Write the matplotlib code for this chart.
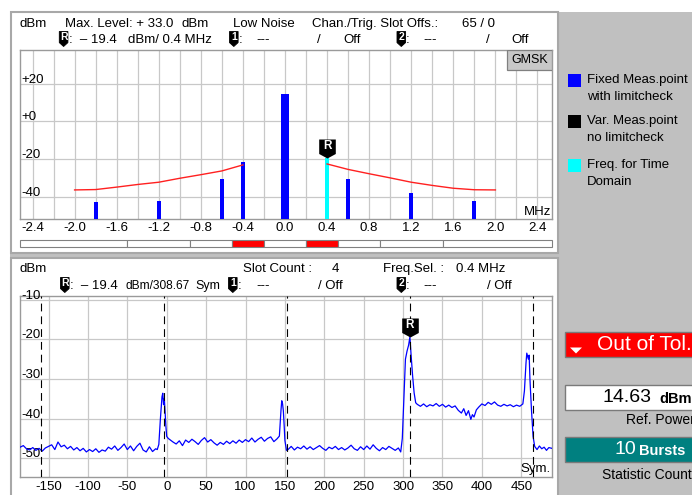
import matplotlib
matplotlib.use("Agg")
import matplotlib.pyplot as plt
import matplotlib.transforms as mtransforms
from matplotlib.patches import Rectangle, Polygon
from matplotlib.path import Path
import numpy as np

plt.rcParams['font.family'] = ['Liberation Sans', 'DejaVu Sans']

W, H = 692, 495

# ---------------- spectrum due to modulation (upper display) ----------------
meas_freq = [-1.8, -1.2, -0.6, -0.4, 0.0, 0.4, 0.6, 1.2, 1.8]
meas_level = [-43.0, -42.1, -30.6, -21.7, 14.63, -19.4, -30.7, -38.2, -42.3]
time_domain_freq = 0.4

limit_freq_left = [-2.0, -1.8, -1.6, -1.4, -1.2, -1.0, -0.8, -0.6, -0.4]
limit_level_left = [-36.4, -36.2, -34.9, -33.5, -32.3, -30.2, -28.3, -26.3, -23.1]
limit_freq_right = [0.4, 0.6, 0.8, 1.0, 1.2, 1.4, 1.6, 1.8, 2.0]
limit_level_right = [-22.6, -25.5, -27.8, -30.0, -32.3, -34.0, -35.5, -36.3, -36.4]

tol_inner_edges = [-1.5, -0.9, -0.5, -0.2, 0.2, 0.5, 0.9, 1.5]
tol_fail = [False, False, False, True, False, True, False, False, False]

freq_labels = ['-2.4', '-2.0', '-1.6', '-1.2', '-0.8', '-0.4', '0.0',
               '0.4', '0.8', '1.2', '1.6', '2.0', '2.4']
level_ticks = [20, 0, -20, -40]
level_labels = ['+20', '+0', '-20', '-40']

# ---------------- power vs. time (lower display) ----------------
trace_sym = [
    -186, -182, -178, -174, -170, -166, -162, -158, -154, -150, -146, -142,
    -138, -134, -130, -126, -122, -118, -114, -110, -106, -102, -98, -94,
    -90, -86, -82, -78, -74, -70, -66, -62, -58, -54, -50, -46, -42, -38,
    -34, -30, -26, -22, -18, -14, -12,
    -10, -8, -6, -5, -4, -3, -2, -1, 0, 2,
    4, 8, 12, 16, 20, 24, 28, 32, 36, 40, 44, 48, 52, 56, 60, 64, 68, 72,
    76, 80, 84, 88, 92, 96, 100, 104, 108, 112, 116, 120, 124, 128, 132,
    136, 140, 143,
    145, 146, 147, 148, 149, 150, 152,
    154, 158, 162, 166, 170, 174, 178, 182, 186, 190, 194, 198, 202, 206,
    210, 214, 218, 222, 226, 230, 234, 238, 242, 246, 250, 254, 258, 262,
    266, 270, 274, 278, 282, 286, 290, 294, 297,
    299, 301, 303, 305, 307, 308.67, 310, 312, 314, 316,
    318, 322, 326, 330, 334, 338, 342, 346, 350, 354, 358, 362, 366, 370,
    374, 377, 380, 383, 386, 388, 390, 393, 396, 400, 404, 408, 412, 416,
    420, 424, 428, 432, 436, 440, 444, 448, 452,
    454, 456, 457, 459, 460, 461, 463, 465, 467,
    470, 473, 476, 479, 482, 485, 489,
]
trace_dbm = [
    -47.2, -46.8, -47.6, -47.9, -47.3, -48.0, -47.5, -48.2, -47.4, -47.0,
    -46.6, -47.8, -45.9, -47.1, -46.7, -47.6, -47.0, -47.9, -47.3, -48.1,
    -47.5, -48.4, -47.8, -48.3, -47.6, -48.5, -47.9, -48.2, -47.2, -47.7,
    -46.9, -48.0, -47.3, -46.4, -47.8, -46.9, -48.1, -47.0, -46.2, -47.9,
    -48.4, -47.1, -48.3, -47.6, -47.8,
    -46.5, -40.0, -34.5, -33.6, -36.5, -35.0, -38.5, -42.0, -44.5, -45.0,
    -45.3, -45.9, -46.4, -45.6, -46.8, -45.4, -46.0, -45.2, -45.8, -46.5,
    -45.5, -44.8, -45.9, -45.3, -46.1, -46.7, -46.0, -46.5, -45.7, -46.3,
    -45.6, -46.2, -45.4, -46.0, -45.3, -45.8, -44.9, -45.9, -45.2, -44.7,
    -45.7, -45.0, -44.6, -45.8, -45.1, -44.4,
    -38.0, -35.5, -36.2, -38.0, -41.5, -45.5, -48.0,
    -47.8, -47.0, -47.9, -47.2, -47.6, -46.9, -47.7, -47.1, -47.8, -47.3,
    -46.8, -47.5, -48.0, -47.2, -47.6, -47.0, -47.8, -47.3, -47.9, -47.4,
    -46.7, -47.6, -48.0, -47.1, -47.8, -46.9, -47.7, -46.6, -47.5, -48.1,
    -47.3, -47.8, -47.0, -47.5, -48.0, -47.4, -48.4,
    -45.0, -35.0, -25.0, -23.0, -21.5, -19.4, -23.5, -29.0, -33.5, -36.0,
    -36.4, -36.9, -36.3, -37.0, -36.5, -36.8, -36.2, -36.9, -36.4, -37.1,
    -36.6, -37.2, -36.8, -37.9, -38.6, -37.5, -39.2, -38.0, -40.2, -39.0,
    -39.6, -37.8, -37.1, -36.3, -36.7, -35.9, -36.4, -35.8, -36.6, -36.9,
    -36.4, -36.8, -36.5, -37.0, -36.6, -36.9, -36.3,
    -33.0, -26.0, -23.5, -25.0, -24.0, -30.0, -38.0, -44.5, -47.0,
    -47.8, -46.9, -47.6, -47.2, -48.0, -47.3, -47.5,
]
slot_marks = [-160.08, -3.83, 152.42, 308.67, 464.92]
ref_sym, ref_dbm = 308.67, -19.4
sym_ticks = [-150, -100, -50, 0, 50, 100, 150, 200, 250, 300, 350, 400, 450]
time_level_ticks = [-10, -20, -30, -40, -50]

FS = 9.5
GRID = '#c8c8c8'
FRAME = '#9a9a9a'
PANEL_GRAY = '#c0c0c0'


def rect(l, t, r, b):
    return [l / W, 1 - b / H, (r - l) / W, (b - t) / H]


fig = plt.figure(figsize=(W / 100, H / 100), dpi=100)
fig.patch.set_facecolor('white')

# background layer in pixel coordinates
bg = fig.add_axes([0, 0, 1, 1], zorder=-5)
bg.set_xlim(0, W)
bg.set_ylim(H, 0)
bg.axis('off')
bg.add_patch(Rectangle((558, 12), W - 558, H - 12, fc=PANEL_GRAY, ec='none'))
bg.add_patch(Rectangle((10, 252.5), 548, 5.5, fc=PANEL_GRAY, ec='none'))
bg.add_patch(Rectangle((10.5, 12), 547, 240.5, fc='white', ec='#a8a8a8', lw=1.5))
bg.add_patch(Rectangle((10.5, 258), 547, 240, fc='white', ec='#a8a8a8', lw=1.5))

# reference marker shape: flag pointing down, tip at the marked value
flag_path = Path([(0, 0), (8.3, 4.5), (8.3, 19), (-8.3, 19), (-8.3, 4.5), (0, 0)],
                 [Path.MOVETO, Path.LINETO, Path.LINETO, Path.LINETO,
                  Path.LINETO, Path.CLOSEPOLY])
FLAG_MS = 2 * 19 * 0.72


def style_axes(ax):
    ax.set_facecolor('white')
    for s in ax.spines.values():
        s.set_color(FRAME)
        s.set_linewidth(1.0)
    ax.grid(True, color=GRID, lw=0.9, zorder=0)
    ax.set_axisbelow(True)
    ax.tick_params(length=0, labelsize=FS, colors='black')


# ---------------- upper display ----------------
ax1 = fig.add_axes(rect(20, 49.7, 552, 219.3))
ax1.set_xlim(-2.519, 2.538)
ax1.set_ylim(-52.0, 38.1)
style_axes(ax1)
grid_freqs = np.round(np.arange(-2.4, 2.41, 0.2), 1)
ax1.set_xticks(grid_freqs)
tick_text = []
for i in range(len(grid_freqs)):
    tick_text.append(freq_labels[i // 2] if i % 2 == 0 else '')
ax1.set_xticklabels(tick_text)
ax1.tick_params(axis='x', pad=2.0)
ax1.set_yticks(level_ticks)
ax1.set_yticklabels([])

lbl_tr1 = mtransforms.offset_copy(
    mtransforms.blended_transform_factory(ax1.transAxes, ax1.transData),
    fig=fig, x=1.5, y=1.0, units='dots')
for v, s in zip(level_ticks, level_labels):
    ax1.text(0, v, s, transform=lbl_tr1, fontsize=FS, ha='left', va='baseline')

bottom1 = ax1.get_ylim()[0]
for f, lv in zip(meas_freq, meas_level):
    is_td = abs(f - time_domain_freq) < 1e-9
    width = 0.075 if f == 0 else 0.036
    ax1.bar(f, lv - bottom1, bottom=bottom1, width=width,
            color='#00ffff' if is_td else '#0000ff', zorder=3)

ax1.plot(limit_freq_left, limit_level_left, color='#ff2020', lw=1.0, zorder=4)
ax1.plot(limit_freq_right, limit_level_right, color='#ff2020', lw=1.0, zorder=4)

td_level = meas_level[meas_freq.index(time_domain_freq)]
ax1.plot([time_domain_freq], [td_level], marker=flag_path, ms=FLAG_MS,
         color='black', mew=0, zorder=6, clip_on=False)
ax1.annotate('R', (time_domain_freq, td_level), xytext=(0, 8.6),
             textcoords='offset points', ha='center', va='center',
             color='white', fontsize=8.5, fontweight='bold', zorder=7)

ax1.text(0.998, 0.008, 'MHz', transform=ax1.transAxes, ha='right', va='bottom',
         fontsize=FS)
ax1.add_patch(Rectangle((0.915, 0.882), 0.085, 0.118, transform=ax1.transAxes,
                        fc='#c8c8c8', ec='#808080', lw=0.9, zorder=5))
ax1.text(0.9575, 0.941, 'GMSK', transform=ax1.transAxes, ha='center',
         va='center', fontsize=9, zorder=6)

# tolerance strip below the spectrum axis
seg = fig.add_axes(rect(20, 239.5, 552, 246.5))
seg.set_xlim(ax1.get_xlim())
seg.set_ylim(0, 1)
seg.axis('off')
edges = [ax1.get_xlim()[0]] + tol_inner_edges + [ax1.get_xlim()[1]]
for (a, b), bad in zip(zip(edges[:-1], edges[1:]), tol_fail):
    seg.add_patch(Rectangle((a, 0), b - a, 1, fc='#ff0000' if bad else 'white',
                            ec='#808080', lw=0.8, clip_on=False))

# ---------------- lower display ----------------
ax2 = fig.add_axes(rect(20, 296.0, 552, 476.7))
ax2.set_xlim(-186.2, 489.0)
ax2.set_ylim(-54.64, -9.1)
style_axes(ax2)
ax2.set_xticks(sym_ticks)
ax2.set_xticklabels([str(v) for v in sym_ticks])
ax2.tick_params(axis='x', pad=2.8)
ax2.set_yticks(time_level_ticks)
ax2.set_yticklabels([])
lbl_tr2 = mtransforms.offset_copy(
    mtransforms.blended_transform_factory(ax2.transAxes, ax2.transData),
    fig=fig, x=1.5, y=1.0, units='dots')
for v in time_level_ticks:
    ax2.text(0, v, str(v), transform=lbl_tr2, fontsize=FS, ha='left',
             va='baseline')

ax2.plot(trace_sym, trace_dbm, color='#0000ff', lw=0.9, zorder=3)
for s in slot_marks:
    ax2.axvline(s, color='black', lw=0.8, dashes=(7, 4.5), zorder=4)
ax2.plot([ref_sym], [ref_dbm], marker=flag_path, ms=FLAG_MS, color='black',
         mew=0, zorder=6, clip_on=False)
ax2.annotate('R', (ref_sym, ref_dbm), xytext=(0, 8.6),
             textcoords='offset points', ha='center', va='center',
             color='white', fontsize=8.5, fontweight='bold', zorder=7)
ax2.text(0.998, 0.008, 'Sym.', transform=ax2.transAxes, ha='right',
         va='bottom', fontsize=FS, zorder=5)

# ---------------- text, headers and side widgets ----------------
fg = fig.add_axes([0, 0, 1, 1], zorder=10)
fg.set_xlim(0, W)
fg.set_ylim(H, 0)
fg.axis('off')
fg.patch.set_alpha(0)


def t(x, y, s, **kw):
    kw.setdefault('fontsize', FS)
    fg.text(x, y, s, ha=kw.pop('ha', 'left'), va=kw.pop('va', 'center'), **kw)


def badge(x0, y0, letter, w=8.6, h=15):
    pts = [(x0, y0), (x0 + w, y0), (x0 + w, y0 + h * 0.74),
           (x0 + w / 2, y0 + h), (x0, y0 + h * 0.74)]
    fg.add_patch(Polygon(pts, closed=True, fc='black', ec='black', lw=0.6))
    fg.text(x0 + w / 2, y0 + h * 0.37, letter, color='white', fontsize=7.5,
            fontweight='bold', ha='center', va='center')


# upper header
t(20, 24, 'dBm')
t(65, 24, 'Max. Level: + 33.0')
t(182, 24, 'dBm')
t(233, 24, 'Low Noise')
t(312, 24, 'Chan./Trig. Slot Offs.:')
t(462, 24, '65 / 0')
badge(59.3, 31.5, 'R')
t(69, 40, ':  \u2013 19.4')
t(128, 40, 'dBm/ 0.4 MHz')
badge(229.5, 31.5, '1')
t(239, 40, ':')
t(256, 40, '---')
t(317, 40, '/')
t(343, 40, 'Off')
badge(397, 31.5, '2')
t(406, 40, ':')
t(423, 40, '---')
t(486, 40, '/')
t(511, 40, 'Off')

# lower header
t(20, 269, 'dBm')
t(243, 269, 'Slot Count :')
t(332, 269, '4')
t(383, 269, 'Freq.Sel. :')
t(456, 269, '0.4 MHz')
badge(60.5, 277.5, 'R')
t(70, 286, ':  \u2013 19.4')
t(125, 286, 'dBm/308.67', fontsize=8.6)
t(195, 286, 'Sym', fontsize=9)
badge(228.5, 277.5, '1')
t(238, 286, ':')
t(256, 286, '---')
t(318, 286, '/ Off')
badge(397, 277.5, '2')
t(406, 286, ':')
t(423, 286, '---')
t(487, 286, '/ Off')

# legend on the side panel
legend_items = [('#0000ff', 'Fixed Meas.point', 'with limitcheck', 80),
                ('#000000', 'Var. Meas.point', 'no limitcheck', 121),
                ('#00ffff', 'Freq. for Time', 'Domain', 165)]
for col, l1, l2, yy in legend_items:
    fg.add_patch(Rectangle((568, yy - 6.5), 13, 13, fc=col, ec='none'))
    t(587, yy, l1)
    t(587, yy + 17, l2)

# status widgets
fg.add_patch(Rectangle((565, 332), 130, 25, fc='#ff0000', ec='#7a7a7a', lw=1.0))
fg.add_patch(Polygon([(570, 347.5), (582, 347.5), (576, 353.5)], closed=True,
                     fc='white', ec='none'))
t(597, 344, 'Out of Tol.', fontsize=15, color='white')

fg.add_patch(Rectangle((565, 385), 130, 25, fc='white', ec='#7a7a7a', lw=1.0))
t(603, 397.5, '14.63', fontsize=14, color='black')
t(659, 399, 'dBm', fontsize=10.5, fontweight='bold', color='black')
t(626, 420, 'Ref. Power', fontsize=10)

fg.add_patch(Rectangle((565, 437), 130, 25, fc='#008080', ec='#7a7a7a', lw=1.0))
t(615, 450, '10', fontsize=14, color='white')
t(639, 451, 'Bursts', fontsize=10.5, fontweight='bold', color='white')
t(602, 475, 'Statistic Count', fontsize=10)

fig.savefig('out.png', dpi=100, facecolor=fig.get_facecolor())
